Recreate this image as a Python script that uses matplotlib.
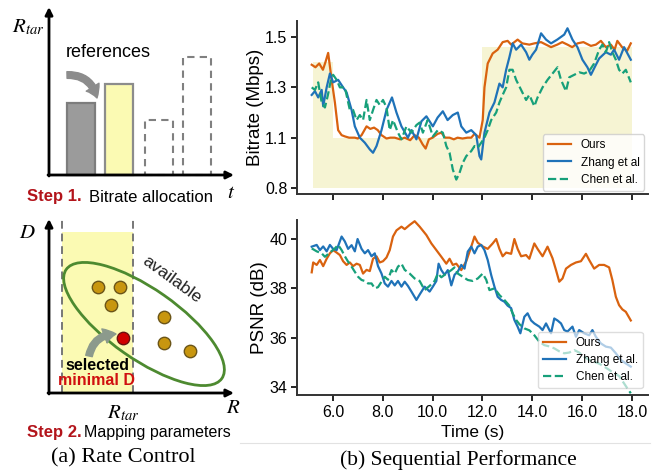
import matplotlib
matplotlib.use("Agg")
import matplotlib.pyplot as plt
from matplotlib.patches import Ellipse, Rectangle
from matplotlib.lines import Line2D
import numpy as np

plt.rcParams['font.family'] = ['Liberation Sans', 'DejaVu Sans']
plt.rcParams['mathtext.fontset'] = 'stix'

# ---------------- data ----------------
# bitrate (Mbps) over time (s)
t_ours_br = [5.15, 5.30, 5.45, 5.60, 5.70, 5.81, 5.95, 6.08, 6.21, 6.35,
             6.48, 6.65, 6.88, 7.00, 7.15, 7.35, 7.50, 7.65, 7.80, 7.95,
             8.15, 8.30, 8.48, 8.70, 8.88, 9.10, 9.28, 9.45, 9.60, 9.72,
             9.85, 10.00, 10.20, 10.35, 10.50, 10.68, 10.85, 11.00, 11.20, 11.40,
             11.55, 11.68, 11.88, 12.01, 12.08, 12.21, 12.41, 12.61, 12.81, 13.01,
             13.15, 13.41, 13.60, 13.88, 14.08, 14.35, 14.55, 14.75, 15.00, 15.20,
             15.41, 15.60, 15.81, 16.05, 16.35, 16.55, 16.75, 16.95, 17.15, 17.30,
             17.41, 17.60, 17.80, 17.95]
ours_br = [1.39, 1.38, 1.395, 1.37, 1.40, 1.437, 1.33, 1.24, 1.13, 1.11,
           1.105, 1.10, 1.10, 1.095, 1.11, 1.145, 1.135, 1.14, 1.13, 1.11,
           1.095, 1.10, 1.10, 1.09, 1.10, 1.085, 1.11, 1.10, 1.06, 1.035,
           1.09, 1.10, 1.115, 1.12, 1.10, 1.10, 1.09, 1.10, 1.095, 1.10,
           1.10, 1.115, 1.10, 1.17, 1.30, 1.395, 1.435, 1.45, 1.48, 1.485,
           1.47, 1.49, 1.475, 1.47, 1.475, 1.48, 1.47, 1.46, 1.47, 1.48,
           1.47, 1.46, 1.475, 1.48, 1.465, 1.47, 1.485, 1.46, 1.47, 1.45,
           1.485, 1.46, 1.445, 1.475]

t_zhang_br = [5.15, 5.28, 5.41, 5.55, 5.61, 5.75, 5.88, 6.01, 6.21, 6.41,
              6.55, 6.75, 6.88, 7.08, 7.28, 7.48, 7.61, 7.75, 7.95, 8.15,
              8.37, 8.55, 8.75, 9.01, 9.15, 9.35, 9.55, 9.75, 10.01, 10.20,
              10.41, 10.60, 10.81, 11.01, 11.15, 11.35, 11.55, 11.75, 11.88, 11.95,
              12.08, 12.28, 12.48, 12.68, 12.81, 12.95, 13.08, 13.21, 13.35, 13.55,
              13.75, 13.88, 14.00, 14.15, 14.35, 14.55, 14.75, 15.00, 15.28, 15.41,
              15.61, 15.81, 16.01, 16.21, 16.35, 16.50, 16.68, 16.95, 17.15, 17.28,
              17.48, 17.68, 17.95]
zhang_br = [1.27, 1.285, 1.26, 1.29, 1.225, 1.30, 1.355, 1.32, 1.33, 1.30,
            1.28, 1.21, 1.145, 1.10, 1.07, 1.03, 1.01, 1.05, 1.13, 1.21,
            1.26, 1.20, 1.145, 1.10, 1.13, 1.09, 1.165, 1.185, 1.145, 1.18,
            1.205, 1.17, 1.19, 1.20, 1.145, 1.12, 1.13, 1.11, 0.99, 0.97,
            1.12, 1.20, 1.24, 1.315, 1.30, 1.37, 1.42, 1.475, 1.45, 1.47,
            1.44, 1.41, 1.43, 1.45, 1.515, 1.49, 1.475, 1.49, 1.51, 1.535,
            1.49, 1.46, 1.41, 1.38, 1.35, 1.38, 1.415, 1.44, 1.43, 1.45,
            1.41, 1.46, 1.41]

t_chen_br = [5.15, 5.28, 5.41, 5.55, 5.68, 5.80, 5.92, 6.01, 6.15, 6.28,
             6.48, 6.68, 6.81, 6.95, 7.08, 7.21, 7.35, 7.48, 7.61, 7.75,
             7.88, 8.01, 8.15, 8.28, 8.41, 8.61, 8.75, 8.95, 9.15, 9.35,
             9.48, 9.61, 9.80, 10.01, 10.21, 10.41, 10.55, 10.68, 10.81, 10.95,
             11.08, 11.21, 11.35, 11.55, 11.68, 11.81, 11.95, 12.08, 12.21, 12.35,
             12.55, 12.68, 12.81, 12.95, 13.08, 13.21, 13.35, 13.55, 13.75, 13.88,
             14.08, 14.21, 14.41, 14.61, 14.81, 15.01, 15.15, 15.35, 15.48, 15.68,
             15.88, 16.08, 16.28, 16.48, 16.68, 16.81, 16.95, 17.08, 17.21, 17.35,
             17.48, 17.61, 17.75, 17.95]
chen_br = [1.30, 1.29, 1.32, 1.24, 1.22, 1.27, 1.33, 1.35, 1.33, 1.30,
           1.30, 1.21, 1.21, 1.17, 1.19, 1.17, 1.25, 1.17, 1.21, 1.25,
           1.23, 1.25, 1.22, 1.13, 1.17, 1.12, 1.09, 1.145, 1.12, 1.15,
           1.16, 1.12, 1.17, 1.105, 1.13, 1.12, 1.05, 1.01, 0.91, 0.85,
           0.89, 0.95, 0.99, 1.02, 1.05, 1.04, 1.07, 1.10, 1.13, 1.17,
           1.20, 1.24, 1.27, 1.30, 1.37, 1.37, 1.33, 1.29, 1.25, 1.27,
           1.225, 1.26, 1.30, 1.33, 1.355, 1.38, 1.33, 1.285, 1.34, 1.35,
           1.36, 1.355, 1.365, 1.395, 1.45, 1.47, 1.44, 1.48, 1.44, 1.41,
           1.37, 1.355, 1.37, 1.32]

# target bitrate (shaded)
t_target = [5.2, 6.0, 12.0, 18.0]
target_br = [1.40, 1.10, 1.46, 1.46]

# PSNR (dB) over time (s)
t_ours_ps = [5.15, 5.21, 5.35, 5.48, 5.61, 5.75, 5.88, 6.01, 6.15, 6.28,
             6.41, 6.55, 6.68, 6.81, 6.95, 7.08, 7.21, 7.35, 7.48, 7.61,
             7.75, 7.88, 8.01, 8.15, 8.28, 8.41, 8.55, 8.75, 8.88, 9.08,
             9.28, 9.48, 9.75, 9.95, 10.15, 10.35, 10.55, 10.68, 10.81, 10.95,
             11.15, 11.35, 11.55, 11.68, 11.81, 12.01, 12.21, 12.41, 12.55, 12.68,
             12.81, 12.95, 13.15, 13.28, 13.41, 13.55, 13.75, 13.88, 14.08, 14.21,
             14.41, 14.61, 14.81, 14.95, 15.08, 15.21, 15.35, 15.55, 15.75, 15.95,
             16.15, 16.28, 16.48, 16.68, 16.88, 17.08, 17.21, 17.35, 17.48, 17.61,
             17.75, 17.95]
ours_ps = [38.65, 39.05, 38.95, 39.15, 38.9, 39.2, 39.42, 39.55, 39.45, 39.35,
           39.1, 38.95, 39.05, 38.9, 39.0, 38.95, 38.6, 38.75, 38.7, 39.2,
           39.3, 39.05, 39.1, 39.25, 39.55, 40.1, 40.35, 40.5, 40.4, 40.57,
           40.72, 40.5, 40.16, 39.82, 39.55, 39.28, 39.0, 39.2, 38.95, 39.0,
           38.74, 39.1, 39.69, 40.1, 39.85, 39.7, 39.6, 39.82, 40.0, 39.6,
           39.3, 39.45, 39.4, 40.0, 39.6, 39.3, 39.35, 39.2, 39.82, 39.6,
           39.3, 39.69, 39.22, 38.74, 38.27, 38.4, 38.8, 38.95, 39.05, 39.1,
           39.4, 39.15, 38.8, 38.95, 38.95, 38.85, 38.34, 37.66, 37.32, 37.15,
           37.05, 36.7]

t_zhang_ps = [5.15, 5.35, 5.48, 5.61, 5.75, 5.88, 6.01, 6.15, 6.35, 6.48,
              6.61, 6.75, 6.88, 6.99, 7.15, 7.28, 7.41, 7.55, 7.68, 7.81,
              7.95, 8.08, 8.21, 8.35, 8.48, 8.61, 8.75, 8.88, 9.01, 9.15,
              9.35, 9.48, 9.68, 9.88, 10.01, 10.15, 10.24, 10.35, 10.48, 10.61,
              10.75, 10.88, 11.01, 11.15, 11.28, 11.41, 11.55, 11.68, 11.81, 11.95,
              12.08, 12.21, 12.35, 12.48, 12.61, 12.75, 12.88, 13.01, 13.15, 13.28,
              13.41, 13.52, 13.68, 13.81, 13.95, 14.08, 14.28, 14.41, 14.55, 14.75,
              14.88, 15.01, 15.15, 15.28, 15.41, 15.61, 15.75, 15.88, 16.08, 16.28,
              16.41, 16.55, 16.75, 16.95, 17.15, 17.35, 17.55, 17.75, 17.95]
zhang_ps = [39.69, 39.76, 39.55, 39.7, 39.5, 39.76, 39.6, 39.55, 40.1, 39.9,
            39.6, 39.75, 39.5, 40.0, 39.6, 39.42, 39.55, 39.3, 39.42, 38.9,
            38.6, 38.2, 38.07, 38.3, 38.12, 38.3, 38.07, 38.27, 38.1, 37.87,
            37.53, 37.75, 38.07, 37.87, 38.07, 38.3, 39.0, 38.74, 38.55, 38.74,
            38.12, 38.55, 38.68, 38.95, 38.8, 39.49, 39.69, 39.42, 39.69, 39.76,
            39.55, 39.15, 38.54, 38.07, 37.66, 37.53, 37.46, 37.3, 37.2, 36.72,
            36.45, 36.18, 36.85, 36.99, 36.7, 36.58, 36.45, 36.31, 36.58, 36.18,
            36.78, 36.7, 36.58, 36.31, 36.25, 36.45, 36.04, 36.31, 36.18, 36.1,
            36.31, 36.04, 35.77, 35.64, 35.6, 35.37, 35.1, 34.96, 34.83]

t_chen_ps = [5.15, 5.35, 5.55, 5.68, 5.88, 6.08, 6.21, 6.35, 6.48, 6.61,
             6.75, 6.88, 7.01, 7.15, 7.28, 7.41, 7.55, 7.68, 7.81, 7.95,
             8.08, 8.21, 8.35, 8.48, 8.61, 8.75, 8.88, 9.08, 9.28, 9.48,
             9.68, 9.88, 10.08, 10.21, 10.35, 10.55, 10.75, 10.88, 11.01, 11.21,
             11.41, 11.61, 11.81, 12.01, 12.15, 12.28, 12.48, 12.68, 12.88, 13.08,
             13.21, 13.35, 13.48, 13.68, 13.88, 14.08, 14.28, 14.48, 14.68, 14.88,
             15.08, 15.28, 15.48, 15.68, 15.88, 16.08, 16.28, 16.48, 16.68, 16.88,
             17.08, 17.28, 17.48, 17.68, 17.81, 17.95]
chen_ps = [39.62, 39.5, 39.42, 39.28, 39.45, 39.62, 39.76, 39.55, 39.3, 39.08,
           38.88, 38.67, 38.47, 38.34, 38.3, 38.2, 38.2, 38.0, 38.05, 38.27,
           38.47, 38.35, 38.74, 38.6, 38.88, 39.0, 38.75, 38.6, 38.4, 38.3,
           37.93, 38.1, 38.3, 38.6, 38.45, 38.6, 38.74, 38.85, 38.6, 38.47,
           38.34, 38.3, 38.4, 38.6, 38.35, 37.93, 38.0, 37.73, 37.53, 37.3,
           36.99, 36.72, 36.55, 36.38, 36.3, 36.1, 35.84, 35.7, 35.65, 35.57,
           35.45, 35.37, 35.4, 35.5, 35.4, 35.23, 35.1, 35.03, 34.95, 34.83,
           34.7, 34.56, 34.45, 34.15, 33.95, 33.75]

br_ticks = [0.8, 1.1, 1.3, 1.5]
ps_ticks = [34, 36, 38, 40]
time_ticks = [6, 8, 10, 12, 14, 16, 18]

# schematic values (a)
step1_heights = [72, 91, 55, 118]
step1_pos = [81, 119, 158.5, 197]
cand_x = [98, 120, 111, 164, 164, 190]
cand_y = [186, 186, 168, 156, 130, 122]
chosen_x, chosen_y = [123], [135]

C_OURS = '#d9620f'
C_ZHANG = '#1f72b8'
C_CHEN = '#17a07a'

fig = plt.figure(figsize=(6.57, 4.73), dpi=100)


# bitrate axis: labels 0.8/1.1/1.3/1.5 are equally spaced -> compressed below 1.1
def fwd(v):
    v = np.asarray(v, dtype=float)
    return np.where(v >= 1.1, v, 1.1 - (1.1 - v) * 2.0 / 3.0)


def inv(u):
    u = np.asarray(u, dtype=float)
    return np.where(u >= 1.1, u, 1.1 - (1.1 - u) * 1.5)


def style_axis(ax):
    for s in ['top', 'right']:
        ax.spines[s].set_visible(False)
    for s in ['left', 'bottom']:
        ax.spines[s].set_linewidth(1.4)
        ax.spines[s].set_color('#333333')
    ax.tick_params(direction='out', length=4, width=1.2, labelsize=11.5, pad=3)


# ---- top: bitrate ----
ax1 = fig.add_axes([297 / 657, 1 - 194 / 473, 351 / 657, 173 / 473])
ax1.set_yscale('function', functions=(fwd, inv))
ax1.fill_between(t_target, target_br, 0.8, step='post', color='#f6f4d3', lw=0, zorder=0)
ax1.plot(t_ours_br, ours_br, color=C_OURS, lw=1.6, label='Ours')
ax1.plot(t_zhang_br, zhang_br, color=C_ZHANG, lw=1.6, label='Zhang et al')
ax1.plot(t_chen_br, chen_br, color=C_CHEN, lw=1.6, ls='--', label='Chen et al.')
ax1.set_xlim(4.56, 18.64)
ax1.set_ylim(0.764, 1.564)
ax1.set_yticks(br_ticks)
ax1.set_yticklabels([f'{v:.1f}' for v in br_ticks])
ax1.set_xticks(time_ticks)
ax1.set_xticklabels([])
ax1.set_ylabel('Bitrate (Mbps)', fontsize=13.5, labelpad=1)
style_axis(ax1)
ax1.legend(loc='lower right', bbox_to_anchor=(0.99, 0.02), borderaxespad=0,
           fontsize=8.5, framealpha=0.8, handlelength=2.0, labelspacing=0.45,
           borderpad=0.4, handletextpad=0.8)

# ---- bottom: PSNR ----
ax2 = fig.add_axes([297 / 657, 1 - 395 / 473, 351 / 657, 175 / 473])
ax2.plot(t_ours_ps, ours_ps, color=C_OURS, lw=1.6, label='Ours')
ax2.plot(t_zhang_ps, zhang_ps, color=C_ZHANG, lw=1.6, label='Zhang et al.')
ax2.plot(t_chen_ps, chen_ps, color=C_CHEN, lw=1.6, ls='--', label='Chen et al.')
ax2.set_xlim(4.56, 18.64)
ax2.set_ylim(33.68, 40.77)
ax2.set_yticks(ps_ticks)
ax2.set_xticks(time_ticks)
ax2.set_xticklabels([f'{v:.1f}' for v in time_ticks])
ax2.set_ylabel('PSNR (dB)', fontsize=13.5, labelpad=1)
ax2.set_xlabel('Time (s)', fontsize=12.5, labelpad=4)
style_axis(ax2)
ax2.legend(loc='lower right', bbox_to_anchor=(0.985, 0.04), borderaxespad=0,
           fontsize=8.5, framealpha=0.65, handlelength=2.0, labelspacing=0.45,
           borderpad=0.4, handletextpad=0.8)

fig.text(458 / 657, 1 - 460 / 473, '(b) Sequential Performance', family='Liberation Serif',
         fontsize=15.5, ha='center', va='center')
fig.add_artist(Line2D([240 / 657, 650 / 657], [1 - 443 / 473] * 2, color='#e2e2e2', lw=0.8))

# ---- left: (a) rate control schematic, pixel units ----
axa = fig.add_axes([0, 0, 240 / 657, 1])
axa.set_xlim(0, 240)
axa.set_ylim(0, 473)
axa.axis('off')

arrow_kw = dict(arrowstyle='-|>', lw=2.0, color='black', mutation_scale=11, shrinkA=0, shrinkB=0)

# step 1
axa.annotate('', xy=(49, 466), xytext=(49, 297), arrowprops=arrow_kw)
axa.annotate('', xy=(234, 298), xytext=(48, 298), arrowprops=arrow_kw)
axa.bar(step1_pos[:2], step1_heights[:2], width=28, bottom=298,
        color=['#9b9b9b', '#fbfab3'], edgecolor=['#7d7d7d', '#8c8c8c'], lw=1.6, zorder=2)
axa.bar(step1_pos[2:], step1_heights[2:], width=28, bottom=298, fill=False,
        edgecolor='#808080', lw=1.5, ls=(0, (3.5, 2.5)), zorder=2)
axa.text(28, 446, r'$R_{tar}$', fontsize=15, ha='center', va='center')
axa.text(231, 280, r'$t$', fontsize=15, ha='center', va='center')
axa.text(108, 420, 'references', fontsize=13, ha='center', va='center')
axa.annotate('', xy=(97, 375), xytext=(67, 398),
             arrowprops=dict(arrowstyle='simple,head_length=0.7,head_width=0.9,tail_width=0.4',
                             color='#8c8c8c', connectionstyle='arc3,rad=-0.4', mutation_scale=12,
                             shrinkA=0, shrinkB=0))
axa.text(27, 276, 'Step 1.', fontsize=12, fontweight='bold', color='#b3141b', ha='left', va='center')
axa.text(89, 276, 'Bitrate allocation', fontsize=12, ha='left', va='center')

# step 2
axa.add_patch(Rectangle((62, 80), 71, 161, color='#fbfab3', lw=0, zorder=0))
for xv in [62, 133]:
    axa.plot([xv, xv], [80, 253], color='#777777', lw=1.4, ls=(0, (4, 2.5)), zorder=1)
axa.annotate('', xy=(49, 254), xytext=(49, 79), arrowprops=arrow_kw)
axa.annotate('', xy=(234, 80), xytext=(48, 80), arrowprops=arrow_kw)
axa.add_patch(Ellipse((144, 149), width=190, height=70, angle=-35, fill=False,
                      ec='#4d8a30', lw=2.0, zorder=3))
axa.scatter(cand_x, cand_y, s=80, c='#c8960f', edgecolors='#6b5518', linewidths=1.0, zorder=4)
axa.scatter(chosen_x, chosen_y, s=80, c='#d00000', edgecolors='#6b1010', linewidths=1.0, zorder=4)
axa.text(27, 240, r'$D$', fontsize=15, ha='center', va='center')
axa.text(233, 66, r'$R$', fontsize=15, ha='center', va='center')
axa.text(123, 60, r'$R_{tar}$', fontsize=15, ha='center', va='center')
axa.text(172, 193, 'available', fontsize=12.5, rotation=-36, ha='center', va='center', color='#222222')
axa.annotate('', xy=(116, 139), xytext=(89, 117),
             arrowprops=dict(arrowstyle='simple,head_length=0.7,head_width=0.9,tail_width=0.4',
                             color='#8c9a8c', connectionstyle='arc3,rad=-0.4', mutation_scale=12,
                             shrinkA=0, shrinkB=0), zorder=5)
axa.text(97, 108, 'selected', fontsize=11.5, fontweight='bold', ha='center', va='center', zorder=6)
axa.text(97, 93, 'minimal D', fontsize=11.5, fontweight='bold', color='#d01010',
         ha='center', va='center', zorder=6)
axa.text(27, 41, 'Step 2.', fontsize=12, fontweight='bold', color='#b3141b', ha='left', va='center')
axa.text(84, 41, 'Mapping parameters', fontsize=11.5, ha='left', va='center')

axa.text(123, 15, '(a) Rate Control', family='Liberation Serif', fontsize=16,
         ha='center', va='center')

fig.savefig('out.png', dpi=100)
